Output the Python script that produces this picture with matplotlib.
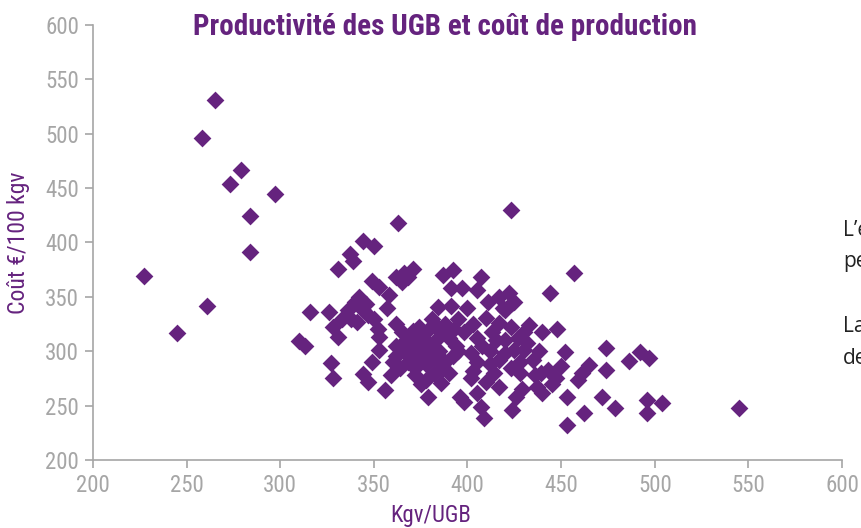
import matplotlib
matplotlib.use("Agg")
import matplotlib.pyplot as plt
from matplotlib import font_manager
from matplotlib.font_manager import FontProperties

# ---- data (Kgv/UGB, Coût €/100 kgv) ----
kgv_ugb = [
    227, 245, 261, 258, 265, 273, 279, 284, 284, 297,
    310, 313, 316, 326, 327, 328, 331, 331, 333, 328, 337, 339, 336, 338,
    344, 350, 349, 353, 358, 342, 346, 340, 347, 341, 344, 350, 353, 353, 349, 344,
    347, 356, 359, 352, 357, 363, 362, 366, 371, 368, 365,
    362, 365, 368, 362, 366, 370, 374, 378, 372, 368, 364, 376, 380, 383, 378, 374,
    371, 368, 367, 372, 376, 380, 385, 384, 388, 387, 382, 378, 379, 386, 390, 392,
    394, 390, 386, 382, 384, 391, 387, 392, 391, 397, 400, 395, 398, 395, 396, 398,
    375, 360, 362, 372, 381, 388, 393,
    405, 407, 417, 422, 424, 419, 410, 417, 433, 413, 405, 408, 412, 405, 414, 417,
    420, 425, 430, 435, 439, 436, 428, 423, 417, 410, 405, 407, 409, 424, 426, 429,
    437, 420, 423, 427, 430, 432, 438, 415, 428, 412, 402, 403, 402, 403, 411, 423,
    420, 425,
    440, 448, 452, 444, 457, 450, 465, 461, 459, 474, 474, 453, 472, 462, 453, 479,
    486, 492, 497, 496, 504, 496, 545, 440, 445, 443, 447,
]
cout_100kgv = [
    369, 317, 342, 496, 531, 454, 467, 424, 391, 445,
    309, 305, 336, 336, 289, 275, 313, 376, 330, 322, 389, 383, 338, 330,
    401, 397, 365, 359, 352, 350, 343, 345, 333, 327, 338, 330, 313, 301, 290, 279,
    272, 264, 278, 320, 340, 418, 368, 372, 376, 368, 364,
    325, 318, 313, 305, 300, 296, 292, 288, 285, 290, 285, 300, 305, 310, 318, 322,
    319, 304, 310, 308, 312, 296, 300, 292, 290, 285, 280, 274, 258, 271, 280, 296,
    305, 312, 318, 325, 341, 342, 370, 375, 358, 358, 340, 330, 318, 300, 258, 253,
    270, 290, 296, 278, 330, 325, 320,
    356, 368, 350, 354, 344, 340, 331, 326, 324, 318, 312, 305, 300, 290, 280, 292,
    298, 301, 301, 292, 280, 278, 280, 285, 267, 272, 262, 249, 239, 246, 258, 265,
    267, 310, 322, 312, 318, 308, 300, 310, 290, 288, 275, 282, 298, 325, 345, 430,
    338, 345,
    318, 320, 299, 354, 372, 286, 287, 280, 274, 283, 303, 258, 258, 243, 232, 248,
    291, 299, 294, 255, 252, 243, 248, 262, 270, 283, 275,
]
x_ticks = [200, 250, 300, 350, 400, 450, 500, 550, 600]
y_ticks = [200, 250, 300, 350, 400, 450, 500, 550, 600]
title = "Productivité des UGB et coût de production"
x_label = "Kgv/UGB"
y_label = "Coût €/100 kgv"
side_text = ["L’évolution", "permet", "La", "des"]


# ---- pick a condensed font if one is installed ----
def find_condensed(bold):
    prefs = ["Liberation Sans Narrow", "Roboto Condensed", "DejaVu Sans Condensed",
             "Open Sans Condensed", "Noto Sans Condensed", "Arial Narrow"]
    cands = []
    for f in font_manager.fontManager.ttflist:
        fn = f.fname.lower()
        nm = f.name
        is_cond = ("condensed" in fn or "narrow" in fn or "condensed" in str(f.stretch)
                   or "Condensed" in nm or "Narrow" in nm)
        if not is_cond:
            continue
        if "mono" in fn or "serif" in fn and "sans" not in fn:
            continue
        if "italic" in fn or "oblique" in fn:
            continue
        w = f.weight if isinstance(f.weight, int) else (700 if "bold" in str(f.weight) else 400)
        isbold = w >= 600 or "bold" in fn
        if "extra" in fn or "light" in fn or "semi" in fn or "medium" in fn or "black" in fn:
            continue
        if isbold != bold:
            continue
        rank = len(prefs)
        for i, p in enumerate(prefs):
            if p.lower().replace(" ", "") in fn.replace("-", "").replace("_", "") or p in nm:
                rank = i
                break
        cands.append((rank, f.fname))
    if cands:
        cands.sort()
        return FontProperties(fname=cands[0][1])
    return FontProperties(family="Roboto", weight="bold" if bold else "normal")


fp_reg = find_condensed(False)
fp_bold = find_condensed(True)

purple = "#65237E"
grey = "#A6A6A6"

fig = plt.figure(figsize=(8.62, 5.28), dpi=100)
ax = fig.add_axes([93 / 862, 1 - 460 / 528, (842 - 93) / 862, (460 - 25) / 528])

ax.scatter(kgv_ugb, cout_100kgv, marker="D", s=82, color=purple, linewidths=0, zorder=3)

ax.set_xlim(200, 600)
ax.set_ylim(200, 600)
ax.set_xticks(x_ticks)
ax.set_yticks(y_ticks)
for s in ("top", "right"):
    ax.spines[s].set_visible(False)
for s in ("left", "bottom"):
    ax.spines[s].set_color(grey)
    ax.spines[s].set_linewidth(1.2)
ax.tick_params(axis="both", colors=grey, length=6, width=1.2, direction="out", pad=4)
for lab in ax.get_xticklabels() + ax.get_yticklabels():
    p = fp_reg.copy()
    p.set_size(16.5)
    lab.set_fontproperties(p)
    lab.set_color(grey)

p = fp_reg.copy(); p.set_size(16.5)
ax.set_xlabel(x_label, color=purple, fontproperties=p, labelpad=4)
ax.xaxis.set_label_coords((431 - 93) / 749, -0.102)
p = fp_reg.copy(); p.set_size(17)
ax.set_ylabel(y_label, color=purple, fontproperties=p, labelpad=4)
ax.yaxis.set_label_coords(-0.084, 0.5)

p = fp_bold.copy(); p.set_size(21)
fig.text(445 / 862, 1 - 27 / 528, title, color=purple, fontproperties=p,
         ha="center", va="center")

ys = [230, 262, 327, 358]
for t, yy in zip(side_text, ys):
    fig.text(843 / 862, 1 - yy / 528, t, color="#222222", fontsize=15,
             family="Open Sans", ha="left", va="center")

fig.savefig("out.png", dpi=100)
